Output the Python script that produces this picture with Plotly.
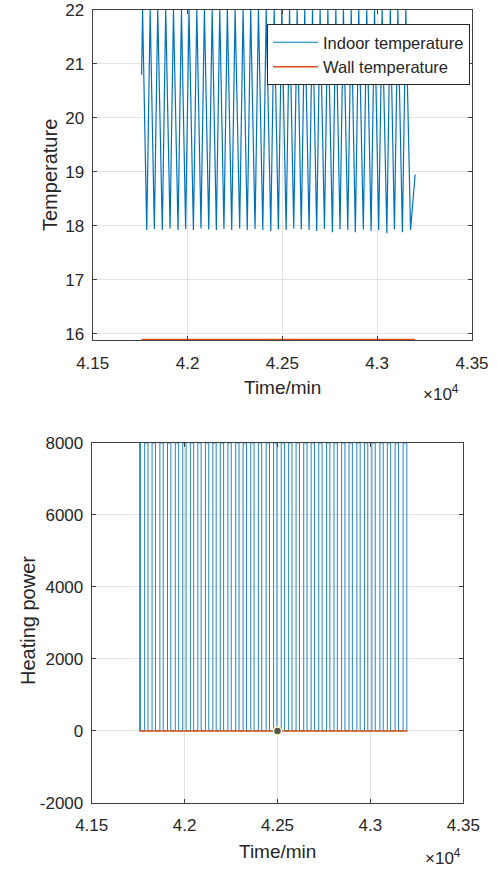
import plotly.graph_objects as go

# ---------------- data ----------------
# Indoor temperature turning points (time in min, value in degC)
indoor_time = [41758, 41763,
               41785, 41803, 41825, 41843, 41867, 41885, 41908, 41926, 41950, 41968,
               41990, 42008, 42031, 42049, 42071, 42089, 42112, 42130, 42152, 42170,
               42192, 42210, 42233, 42251, 42275, 42293, 42315, 42333, 42356, 42374,
               42397, 42415, 42439, 42457, 42479, 42497, 42520, 42538, 42560, 42578,
               42600, 42618, 42641, 42659, 42681, 42699, 42722, 42740, 42764, 42782,
               42804, 42822, 42845, 42863, 42885, 42903, 42927, 42945, 42968, 42986,
               43008, 43026, 43051, 43069, 43091, 43109, 43133, 43151, 43176, 43200]
indoor_temp = [20.8, 22.0,
               17.92, 22.0, 17.94, 22.0, 17.92, 22.0, 17.95, 22.0, 17.92, 22.0,
               17.94, 22.0, 17.92, 22.0, 17.95, 22.0, 17.93, 22.0, 17.92, 22.0,
               17.94, 22.0, 17.92, 22.0, 17.95, 22.0, 17.92, 22.0, 17.94, 22.0,
               17.92, 22.0, 17.90, 22.0, 17.93, 22.0, 17.92, 22.0, 17.95, 22.0,
               17.93, 22.0, 17.92, 22.0, 17.90, 22.0, 17.94, 22.0, 17.88, 22.0,
               17.93, 22.0, 17.92, 22.0, 17.88, 22.0, 17.93, 22.0, 17.90, 22.0,
               17.92, 22.0, 17.86, 22.0, 17.93, 22.0, 17.88, 22.0, 17.92, 18.95]

wall_time = [41758, 43200]
wall_temp = [15.89, 15.89]

# Heating power pulses (on / off times in min)
heat_on = [41758, 41785, 41825, 41867, 41908, 41950, 41990, 42031, 42071, 42112,
           42152, 42192, 42233, 42275, 42315, 42356, 42397, 42439, 42479, 42520,
           42560, 42600, 42641, 42681, 42722, 42764, 42804, 42845, 42885, 42927,
           42968, 43008, 43051, 43091, 43133, 43176]
heat_off = [41763, 41803, 41843, 41885, 41926, 41968, 42008, 42049, 42089, 42130,
            42170, 42210, 42251, 42293, 42333, 42374, 42415, 42457, 42497, 42538,
            42578, 42618, 42659, 42699, 42740, 42782, 42822, 42863, 42903, 42945,
            42986, 43026, 43069, 43109, 43151, 43196]
heat_max = 8000

zero_time = [41758, 43200]
zero_power = [0, 0]

tip_time = [42500]
tip_value = [0]

x_tickvals = [41500, 42000, 42500, 43000, 43500]
x_ticktext = ["4.15", "4.2", "4.25", "4.3", "4.35"]
temp_ticks = [16, 17, 18, 19, 20, 21, 22]
power_ticks = [-2000, 0, 2000, 4000, 6000, 8000]
power_ticktext = ["-2000", "0", "2000", "4000", "6000", "8000"]

# build step series for heating power
heat_x, heat_y = [], []
for on, off in zip(heat_on, heat_off):
    heat_x += [on, on, off, off]
    heat_y += [0, heat_max, heat_max, 0]

BLUE = "#0072BD"
ORANGE = "#D95319"
TXT = "#262626"
FONT = "Liberation Sans, Arial, sans-serif"

fig = go.Figure()
fig.add_trace(go.Scatter(x=indoor_time, y=indoor_temp, mode="lines",
                         line=dict(color=BLUE, width=1.2), name="Indoor temperature",
                         xaxis="x", yaxis="y"))
fig.add_trace(go.Scatter(x=wall_time, y=wall_temp, mode="lines",
                         line=dict(color=ORANGE, width=1.5), name="Wall temperature",
                         xaxis="x", yaxis="y"))
fig.add_trace(go.Scatter(x=heat_x, y=heat_y, mode="lines",
                         line=dict(color=BLUE, width=1), showlegend=False,
                         xaxis="x2", yaxis="y2", opacity=0.85))
fig.add_trace(go.Scatter(x=zero_time, y=zero_power, mode="lines",
                         line=dict(color=ORANGE, width=1.5), showlegend=False,
                         xaxis="x2", yaxis="y2"))
fig.add_trace(go.Scatter(x=tip_time, y=tip_value, mode="markers",
                         marker=dict(color="#555555", size=8,
                                     line=dict(color="#ffffc0", width=1.5)),
                         showlegend=False, xaxis="x2", yaxis="y2"))

axis_common = dict(showline=True, linecolor="#404040", linewidth=1, mirror="ticks",
                   ticks="inside", ticklen=4, tickcolor="#404040",
                   showgrid=True, gridcolor="#e3e3e3", gridwidth=1, zeroline=False,
                   tickfont=dict(family=FONT, size=17, color=TXT), automargin=False)

fig.update_layout(
    width=497, height=873,
    margin=dict(l=0, r=0, t=0, b=0),
    paper_bgcolor="white", plot_bgcolor="white",
    font=dict(family=FONT, color=TXT),
    xaxis=dict(domain=[0.1865, 0.9497], anchor="y", range=[41500, 43500],
               tickvals=x_tickvals, ticktext=x_ticktext, ticklabelstandoff=8,
               **axis_common),
    yaxis=dict(domain=[0.6105, 0.9885], anchor="x", range=[15.88, 22.0],
               tickvals=temp_ticks, ticklabelstandoff=4, **axis_common),
    xaxis2=dict(domain=[0.1845, 0.9322], anchor="y2", range=[41500, 43500],
                tickvals=x_tickvals, ticktext=x_ticktext, ticklabelstandoff=7,
                **axis_common),
    yaxis2=dict(domain=[0.0802, 0.4926], anchor="x2", range=[-2000, 8000],
                tickvals=power_ticks, ticktext=power_ticktext, ticklabelstandoff=4,
                **axis_common),
    legend=dict(x=0.9457, y=0.9725, xanchor="right", yanchor="top",
                bgcolor="white", bordercolor="#262626", borderwidth=1,
                font=dict(family=FONT, size=16.5, color=TXT),
                tracegroupgap=0, itemwidth=45),
    showlegend=True,
)

def ann(text, x, y, size, angle=0):
    fig.add_annotation(text=text, x=x / 497, y=1 - y / 873, xref="paper", yref="paper",
                       xanchor="center", yanchor="middle",
                       showarrow=False, textangle=angle,
                       font=dict(family=FONT, size=size, color=TXT))

ann("Time/min", 282, 387, 19)
ann("Time/min", 277, 851, 19)
ann("×10<sup>4</sup>", 441, 393, 17)
ann("×10<sup>4</sup>", 443, 857, 17)
ann("Temperature", 50, 175, 20, -90)
ann("Heating power", 28, 621, 20, -90)

fig.write_html("out.html")
